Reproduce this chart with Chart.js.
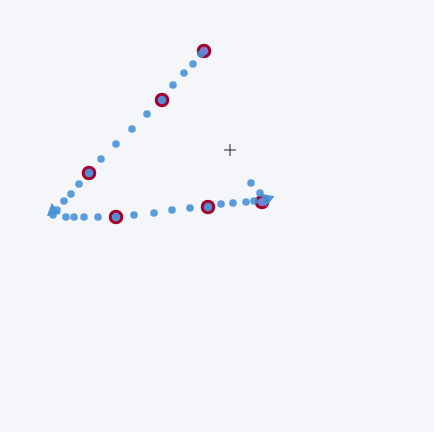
<!DOCTYPE html>
<html>
<head>
<meta charset="utf-8">
<script src="https://cdn.jsdelivr.net/npm/chart.js@4/dist/chart.umd.min.js"></script>
<style>
html,body{margin:0;padding:0;background:#f4f6fa;}
#wrap{width:434px;height:432px;}
</style>
</head>
<body>
<div id="wrap"><canvas id="c" width="434" height="432"></canvas></div>
<script>
const pathX = [251,260,254,246,233,221,208,190,172,154,134,116,98,84,74,66,53,57,64,71,79,89,101,116,132,147,162,173,184,193,201];
const pathY = [183,193,201,202,203,204,207,208,210,213,215,217,217,217,217,217,215,210,201,194,184,173,159,144,129,114,100,85,73,64,54];
const markX = [204,162,89,116,208,262];
const markY = [51,100,173,217,207,202];
const arrowX = [53,267];
const arrowY = [211,199];
const arrowRot = [-10,70];
const cursorX = [230];
const cursorY = [150];

const zip = (xs, ys) => xs.map((x, i) => ({x: x, y: ys[i]}));

new Chart(document.getElementById('c'), {
  type: 'scatter',
  data: {
    datasets: [
      {
        data: zip(pathX, pathY),
        pointRadius: 3.8,
        pointBackgroundColor: 'rgba(70,145,215,0.88)',
        pointBorderWidth: 0,
        order: 2
      },
      {
        data: zip(arrowX, arrowY),
        pointStyle: 'triangle',
        pointRadius: 8,
        rotation: arrowRot,
        pointBackgroundColor: 'rgba(70,145,215,0.95)',
        pointBorderWidth: 0,
        order: 1
      },
      {
        data: zip(markX, markY),
        pointRadius: 5.8,
        pointBackgroundColor: '#7c7fcf',
        pointBorderColor: '#a5002c',
        pointBorderWidth: 3,
        order: 3
      },
      {
        data: zip(cursorX, cursorY),
        pointStyle: 'cross',
        pointRadius: 6,
        pointBorderColor: '#222',
        pointBorderWidth: 1,
        order: 0
      }
    ]
  },
  options: {
    responsive: false,
    animation: false,
    layout: {padding: 0, autoPadding: false},
    plugins: {legend: {display: false}, tooltip: {enabled: false}},
    scales: {
      x: {type: 'linear', min: 0, max: 434, display: false},
      y: {type: 'linear', min: 0, max: 432, reverse: true, display: false}
    }
  }
});
</script>
</body>
</html>
